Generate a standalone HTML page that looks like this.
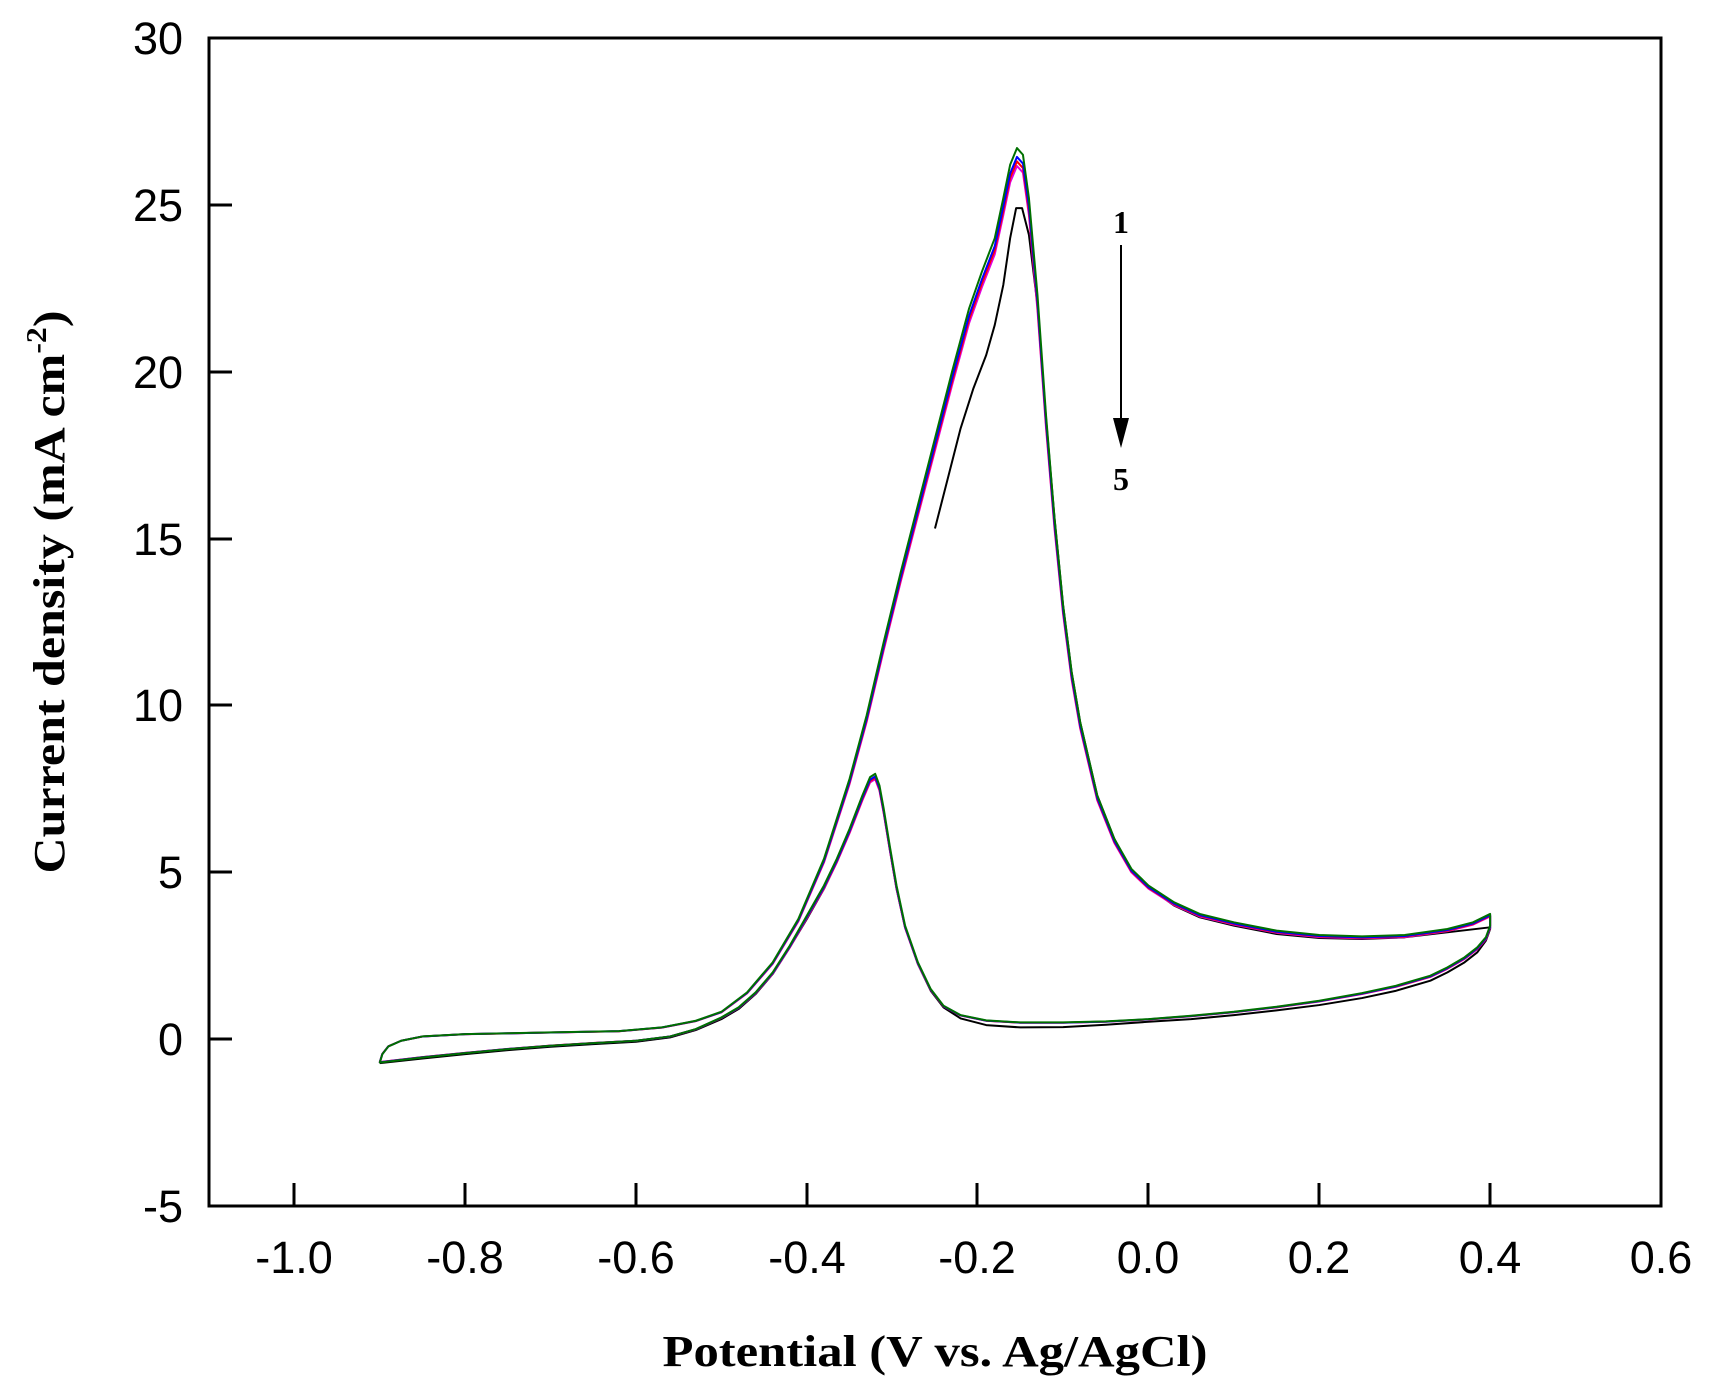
<!DOCTYPE html>
<html><head><meta charset="utf-8"><style>
html,body{margin:0;padding:0;background:#fff;}
svg{display:block;}
</style></head><body>
<svg width="1709" height="1384" viewBox="0 0 1709 1384" xmlns="http://www.w3.org/2000/svg">
<g fill="none" stroke-width="2" stroke-linejoin="round">
<path transform="matrix(854.1,0,0,-33.371,1148.5,1039.1)" vector-effect="non-scaling-stroke" fill="none" stroke="#000" d="M-0.25,15.3 L-0.235,16.8 L-0.22,18.3 L-0.205,19.5 L-0.19,20.5 L-0.18,21.4 L-0.17,22.6 L-0.162,24 L-0.155,24.9 L-0.148,24.9 L-0.14,24.1 L-0.13,22 L-0.12,18.6 L-0.11,15.6 L-0.1,13 L-0.09,11 L-0.08,9.5 L-0.06,7.3 L-0.04,6 L-0.02,5.05 L0,4.55 L0.03,4.0 L0.06,3.65 L0.1,3.4 L0.15,3.15 L0.2,3.03 L0.25,3.0 L0.3,3.05 L0.35,3.2 L0.4,3.35 L0.4,3.3 L0.395,2.95 L0.385,2.6 L0.37,2.3 L0.35,2.0 L0.33,1.75 L0.29,1.45 L0.25,1.23 L0.2,1.02 L0.15,0.86 L0.1,0.72 L0.05,0.6 L0,0.52 L-0.05,0.43 L-0.1,0.36 L-0.15,0.35 L-0.19,0.42 L-0.22,0.62 L-0.24,0.95 L-0.255,1.45 L-0.27,2.25 L-0.285,3.35 L-0.295,4.5 L-0.303,5.7 L-0.31,6.8 L-0.315,7.5 L-0.32,7.8 L-0.326,7.7 L-0.335,7.2 L-0.35,6.2 L-0.365,5.3 L-0.38,4.5 L-0.4,3.6 L-0.42,2.75 L-0.44,1.95 L-0.46,1.35 L-0.48,0.9 L-0.5,0.6 L-0.53,0.27 L-0.56,0.05 L-0.6,-0.08 L-0.65,-0.15 L-0.7,-0.23 L-0.75,-0.33 L-0.8,-0.45 L-0.85,-0.58 L-0.9,-0.72"/>
<path id="m" transform="matrix(854.1,0,0,-32.70,1148.5,1039.1)" vector-effect="non-scaling-stroke" fill="none" stroke="#e000e0" d="M-0.25,18 L-0.23,20 L-0.21,21.9 L-0.195,23 L-0.18,24 L-0.17,25.2 L-0.162,26.2 L-0.154,26.7 L-0.147,26.5 L-0.14,25.2 L-0.13,22.3 L-0.12,18.7 L-0.11,15.6 L-0.1,13 L-0.09,11 L-0.08,9.5 L-0.06,7.3 L-0.04,6 L-0.02,5.1 L0,4.6 L0.03,4.1 L0.06,3.75 L0.1,3.5 L0.15,3.25 L0.2,3.12 L0.25,3.08 L0.3,3.12 L0.35,3.3 L0.38,3.5 L0.4,3.75 L0.4,3.4 L0.395,3.05 L0.385,2.75 L0.37,2.45 L0.35,2.15 L0.33,1.9 L0.29,1.6 L0.25,1.38 L0.2,1.15 L0.15,0.97 L0.1,0.82 L0.05,0.7 L0,0.6 L-0.05,0.53 L-0.1,0.5 L-0.15,0.5 L-0.19,0.56 L-0.22,0.72 L-0.24,1.0 L-0.255,1.5 L-0.27,2.3 L-0.285,3.4 L-0.295,4.6 L-0.303,5.8 L-0.31,6.9 L-0.315,7.6 L-0.32,7.95 L-0.326,7.85 L-0.335,7.3 L-0.35,6.3 L-0.365,5.4 L-0.38,4.6 L-0.4,3.7 L-0.42,2.8 L-0.44,2.0 L-0.46,1.4 L-0.48,0.95 L-0.5,0.65 L-0.53,0.3 L-0.56,0.08 L-0.6,-0.05 L-0.65,-0.12 L-0.7,-0.2 L-0.75,-0.3 L-0.8,-0.42 L-0.85,-0.55 L-0.9,-0.7 L-0.897,-0.45 L-0.89,-0.22 L-0.875,-0.05 L-0.85,0.08 L-0.8,0.15 L-0.7,0.2 L-0.62,0.24 L-0.57,0.35 L-0.53,0.55 L-0.5,0.82 L-0.47,1.4 L-0.44,2.3 L-0.41,3.6 L-0.38,5.4 L-0.35,7.8 L-0.33,9.7 L-0.31,11.9 L-0.29,14 L-0.27,16 L-0.25,18"/>
<path transform="matrix(854.1,0,0,-32.87,1148.5,1039.1)" vector-effect="non-scaling-stroke" fill="none" stroke="#ff0000" d="M-0.25,18 L-0.23,20 L-0.21,21.9 L-0.195,23 L-0.18,24 L-0.17,25.2 L-0.162,26.2 L-0.154,26.7 L-0.147,26.5 L-0.14,25.2 L-0.13,22.3 L-0.12,18.7 L-0.11,15.6 L-0.1,13 L-0.09,11 L-0.08,9.5 L-0.06,7.3 L-0.04,6 L-0.02,5.1 L0,4.6 L0.03,4.1 L0.06,3.75 L0.1,3.5 L0.15,3.25 L0.2,3.12 L0.25,3.08 L0.3,3.12 L0.35,3.3 L0.38,3.5 L0.4,3.75 L0.4,3.4 L0.395,3.05 L0.385,2.75 L0.37,2.45 L0.35,2.15 L0.33,1.9 L0.29,1.6 L0.25,1.38 L0.2,1.15 L0.15,0.97 L0.1,0.82 L0.05,0.7 L0,0.6 L-0.05,0.53 L-0.1,0.5 L-0.15,0.5 L-0.19,0.56 L-0.22,0.72 L-0.24,1.0 L-0.255,1.5 L-0.27,2.3 L-0.285,3.4 L-0.295,4.6 L-0.303,5.8 L-0.31,6.9 L-0.315,7.6 L-0.32,7.95 L-0.326,7.85 L-0.335,7.3 L-0.35,6.3 L-0.365,5.4 L-0.38,4.6 L-0.4,3.7 L-0.42,2.8 L-0.44,2.0 L-0.46,1.4 L-0.48,0.95 L-0.5,0.65 L-0.53,0.3 L-0.56,0.08 L-0.6,-0.05 L-0.65,-0.12 L-0.7,-0.2 L-0.75,-0.3 L-0.8,-0.42 L-0.85,-0.55 L-0.9,-0.7 L-0.897,-0.45 L-0.89,-0.22 L-0.875,-0.05 L-0.85,0.08 L-0.8,0.15 L-0.7,0.2 L-0.62,0.24 L-0.57,0.35 L-0.53,0.55 L-0.5,0.82 L-0.47,1.4 L-0.44,2.3 L-0.41,3.6 L-0.38,5.4 L-0.35,7.8 L-0.33,9.7 L-0.31,11.9 L-0.29,14 L-0.27,16 L-0.25,18"/>
<path transform="matrix(854.1,0,0,-33.04,1148.5,1039.1)" vector-effect="non-scaling-stroke" fill="none" stroke="#0000ff" d="M-0.25,18 L-0.23,20 L-0.21,21.9 L-0.195,23 L-0.18,24 L-0.17,25.2 L-0.162,26.2 L-0.154,26.7 L-0.147,26.5 L-0.14,25.2 L-0.13,22.3 L-0.12,18.7 L-0.11,15.6 L-0.1,13 L-0.09,11 L-0.08,9.5 L-0.06,7.3 L-0.04,6 L-0.02,5.1 L0,4.6 L0.03,4.1 L0.06,3.75 L0.1,3.5 L0.15,3.25 L0.2,3.12 L0.25,3.08 L0.3,3.12 L0.35,3.3 L0.38,3.5 L0.4,3.75 L0.4,3.4 L0.395,3.05 L0.385,2.75 L0.37,2.45 L0.35,2.15 L0.33,1.9 L0.29,1.6 L0.25,1.38 L0.2,1.15 L0.15,0.97 L0.1,0.82 L0.05,0.7 L0,0.6 L-0.05,0.53 L-0.1,0.5 L-0.15,0.5 L-0.19,0.56 L-0.22,0.72 L-0.24,1.0 L-0.255,1.5 L-0.27,2.3 L-0.285,3.4 L-0.295,4.6 L-0.303,5.8 L-0.31,6.9 L-0.315,7.6 L-0.32,7.95 L-0.326,7.85 L-0.335,7.3 L-0.35,6.3 L-0.365,5.4 L-0.38,4.6 L-0.4,3.7 L-0.42,2.8 L-0.44,2.0 L-0.46,1.4 L-0.48,0.95 L-0.5,0.65 L-0.53,0.3 L-0.56,0.08 L-0.6,-0.05 L-0.65,-0.12 L-0.7,-0.2 L-0.75,-0.3 L-0.8,-0.42 L-0.85,-0.55 L-0.9,-0.7 L-0.897,-0.45 L-0.89,-0.22 L-0.875,-0.05 L-0.85,0.08 L-0.8,0.15 L-0.7,0.2 L-0.62,0.24 L-0.57,0.35 L-0.53,0.55 L-0.5,0.82 L-0.47,1.4 L-0.44,2.3 L-0.41,3.6 L-0.38,5.4 L-0.35,7.8 L-0.33,9.7 L-0.31,11.9 L-0.29,14 L-0.27,16 L-0.25,18"/>
<path transform="matrix(854.1,0,0,-33.371,1148.5,1039.1)" vector-effect="non-scaling-stroke" fill="none" stroke="#007000" d="M-0.25,18 L-0.23,20 L-0.21,21.9 L-0.195,23 L-0.18,24 L-0.17,25.2 L-0.162,26.2 L-0.154,26.7 L-0.147,26.5 L-0.14,25.2 L-0.13,22.3 L-0.12,18.7 L-0.11,15.6 L-0.1,13 L-0.09,11 L-0.08,9.5 L-0.06,7.3 L-0.04,6 L-0.02,5.1 L0,4.6 L0.03,4.1 L0.06,3.75 L0.1,3.5 L0.15,3.25 L0.2,3.12 L0.25,3.08 L0.3,3.12 L0.35,3.3 L0.38,3.5 L0.4,3.75 L0.4,3.4 L0.395,3.05 L0.385,2.75 L0.37,2.45 L0.35,2.15 L0.33,1.9 L0.29,1.6 L0.25,1.38 L0.2,1.15 L0.15,0.97 L0.1,0.82 L0.05,0.7 L0,0.6 L-0.05,0.53 L-0.1,0.5 L-0.15,0.5 L-0.19,0.56 L-0.22,0.72 L-0.24,1.0 L-0.255,1.5 L-0.27,2.3 L-0.285,3.4 L-0.295,4.6 L-0.303,5.8 L-0.31,6.9 L-0.315,7.6 L-0.32,7.95 L-0.326,7.85 L-0.335,7.3 L-0.35,6.3 L-0.365,5.4 L-0.38,4.6 L-0.4,3.7 L-0.42,2.8 L-0.44,2.0 L-0.46,1.4 L-0.48,0.95 L-0.5,0.65 L-0.53,0.3 L-0.56,0.08 L-0.6,-0.05 L-0.65,-0.12 L-0.7,-0.2 L-0.75,-0.3 L-0.8,-0.42 L-0.85,-0.55 L-0.9,-0.7 L-0.897,-0.45 L-0.89,-0.22 L-0.875,-0.05 L-0.85,0.08 L-0.8,0.15 L-0.7,0.2 L-0.62,0.24 L-0.57,0.35 L-0.53,0.55 L-0.5,0.82 L-0.47,1.4 L-0.44,2.3 L-0.41,3.6 L-0.38,5.4 L-0.35,7.8 L-0.33,9.7 L-0.31,11.9 L-0.29,14 L-0.27,16 L-0.25,18"/>
</g>
<rect x="209" y="38" width="1452" height="1168" fill="none" stroke="#000" stroke-width="3"/>
<g stroke="#000" stroke-width="3">
<line x1="209" y1="205" x2="232" y2="205"/>
<line x1="209" y1="372" x2="232" y2="372"/>
<line x1="209" y1="539" x2="232" y2="539"/>
<line x1="209" y1="705" x2="232" y2="705"/>
<line x1="209" y1="872" x2="232" y2="872"/>
<line x1="209" y1="1039" x2="232" y2="1039"/>
<line x1="294" y1="1206" x2="294" y2="1183"/>
<line x1="465" y1="1206" x2="465" y2="1183"/>
<line x1="636" y1="1206" x2="636" y2="1183"/>
<line x1="807" y1="1206" x2="807" y2="1183"/>
<line x1="977" y1="1206" x2="977" y2="1183"/>
<line x1="1148" y1="1206" x2="1148" y2="1183"/>
<line x1="1319" y1="1206" x2="1319" y2="1183"/>
<line x1="1490" y1="1206" x2="1490" y2="1183"/>
</g>
<g font-family="Liberation Sans, sans-serif" font-size="45" fill="#000" text-anchor="end">
<text x="183" y="54">30</text>
<text x="183" y="221">25</text>
<text x="183" y="388">20</text>
<text x="183" y="555">15</text>
<text x="183" y="721">10</text>
<text x="183" y="888">5</text>
<text x="183" y="1055">0</text>
<text x="183" y="1222">-5</text>
</g>
<g font-family="Liberation Sans, sans-serif" font-size="45" fill="#000" text-anchor="middle">
<text x="294" y="1273">-1.0</text>
<text x="465" y="1273">-0.8</text>
<text x="636" y="1273">-0.6</text>
<text x="807" y="1273">-0.4</text>
<text x="977" y="1273">-0.2</text>
<text x="1148" y="1273">0.0</text>
<text x="1319" y="1273">0.2</text>
<text x="1490" y="1273">0.4</text>
<text x="1661" y="1273">0.6</text>
</g>
<text x="935" y="1366" font-family="Liberation Serif, serif" font-weight="bold" font-size="44" text-anchor="middle" textLength="545" lengthAdjust="spacingAndGlyphs">Potential (V vs. Ag/AgCl)</text>
<text transform="translate(64,592) rotate(-90)" font-family="Liberation Serif, serif" font-weight="bold" font-size="44" text-anchor="middle" textLength="563" lengthAdjust="spacingAndGlyphs">Current density (mA cm<tspan dy="-18" font-size="28">-2</tspan><tspan dy="18">)</tspan></text>
<text x="1121" y="233" font-family="Liberation Serif, serif" font-weight="bold" font-size="32" text-anchor="middle">1</text>
<line x1="1121" y1="245" x2="1121" y2="425" stroke="#000" stroke-width="2"/>
<polygon points="1113,418 1129,418 1121,448" fill="#000"/>
<text x="1121" y="490" font-family="Liberation Serif, serif" font-weight="bold" font-size="32" text-anchor="middle">5</text>
</svg>
</body></html>
